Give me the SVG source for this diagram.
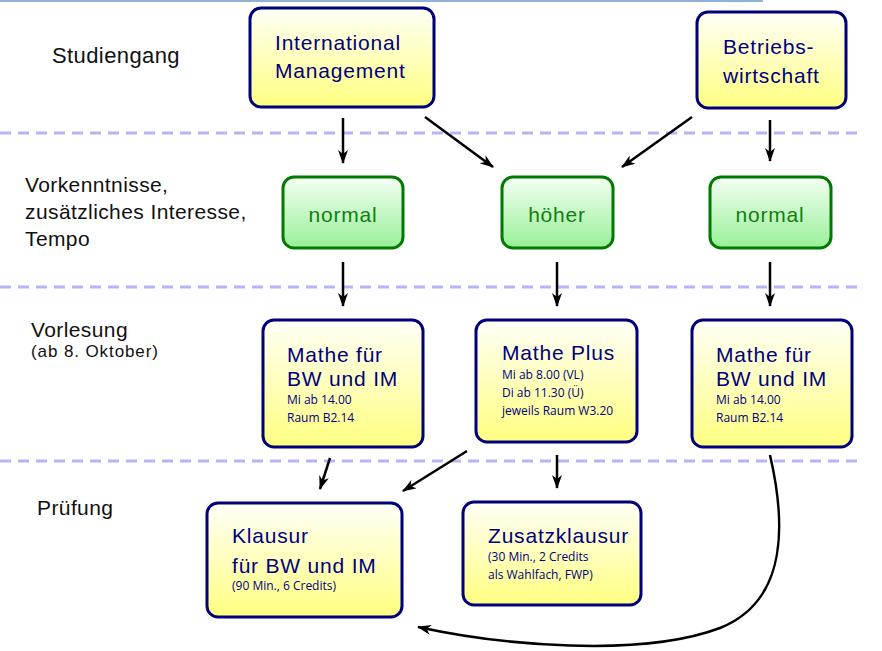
<svg xmlns="http://www.w3.org/2000/svg" width="882" height="651" viewBox="0 0 882 651">
<defs>
<linearGradient id="gy" x1="0" y1="0" x2="0" y2="1">
<stop offset="0" stop-color="#fffff8"/>
<stop offset="1" stop-color="#ffff80"/>
</linearGradient>
<linearGradient id="gg" x1="0" y1="0" x2="0" y2="1">
<stop offset="0" stop-color="#f4fff4"/>
<stop offset="1" stop-color="#98f098"/>
</linearGradient>
<marker id="ah" viewBox="0 0 14 10" refX="13" refY="5" markerWidth="14" markerHeight="10" orient="auto" markerUnits="userSpaceOnUse">
<path d="M0,0 L14,5 L0,10 L4,5 z" fill="#000"/>
</marker>
</defs>
<style>
text{font-family:"Liberation Sans",Arial,sans-serif}
.lbl{font-size:21px;fill:#111;letter-spacing:0.4px}
.ybox{fill:url(#gy);stroke:#00007a;stroke-width:3}
.gbox{fill:url(#gg);stroke:#007a00;stroke-width:3}
.bt{font-size:21px;fill:#000080;letter-spacing:0.8px}
.st{font-family:"Open Sans","Noto Sans","Liberation Sans",sans-serif;font-size:12px;fill:#000080}
.gt{font-size:21px;fill:#108010;text-anchor:middle;letter-spacing:0.8px}
.sep{stroke:#b4b4f8;stroke-width:3;stroke-dasharray:11 7}
.arr{stroke:#000;stroke-width:2.5;fill:none;marker-end:url(#ah)}
</style>
<rect width="882" height="651" fill="#fff"/>
<line x1="0" y1="1" x2="763" y2="1" stroke="#8fb2d6" stroke-width="2"/>
<g id="separators">
<line class="sep" x1="0" y1="133" x2="862" y2="133"/>
<line class="sep" x1="0" y1="287" x2="862" y2="287"/>
<line class="sep" x1="0" y1="461" x2="862" y2="461"/>
</g>
<g id="labels">
<text class="lbl" x="52" y="63" style="font-size:22px">Studiengang</text>
<text class="lbl" x="25" y="192">Vorkenntnisse,</text>
<text class="lbl" x="25" y="219">zusätzliches Interesse,</text>
<text class="lbl" x="25" y="246">Tempo</text>
<text class="lbl" x="31" y="337">Vorlesung</text>
<text class="lbl" x="31" y="357" style="font-size:17px;letter-spacing:0.9px">(ab 8. Oktober)</text>
<text class="lbl" x="37" y="515">Prüfung</text>
</g>
<g id="n-im">
<rect class="ybox" x="250" y="8" width="184" height="99" rx="11"/>
<text class="bt" x="275" y="50">International</text>
<text class="bt" x="275" y="78">Management</text>
</g>
<g id="n-bw">
<rect class="ybox" x="697" y="12" width="149" height="96" rx="11"/>
<text class="bt" x="723" y="54">Betriebs-</text>
<text class="bt" x="723" y="83">wirtschaft</text>
</g>
<g id="n-normal1">
<rect class="gbox" x="283" y="177" width="120" height="71" rx="11"/>
<text class="gt" x="343" y="222">normal</text>
</g>
<g id="n-hoeher">
<rect class="gbox" x="502" y="177" width="111" height="71" rx="11"/>
<text class="gt" x="557" y="222">höher</text>
</g>
<g id="n-normal2">
<rect class="gbox" x="710" y="177" width="121" height="71" rx="11"/>
<text class="gt" x="770" y="222">normal</text>
</g>
<g id="n-mathe1">
<rect class="ybox" x="263" y="320" width="160" height="127" rx="11"/>
<text class="bt" x="287" y="362">Mathe für</text>
<text class="bt" x="287" y="386">BW und IM</text>
<text class="st" x="287" y="404">Mi ab 14.00</text>
<text class="st" x="287" y="422">Raum B2.14</text>
</g>
<g id="n-matheplus">
<rect class="ybox" x="476" y="320" width="161" height="122" rx="11"/>
<text class="bt" x="502" y="360">Mathe Plus</text>
<text class="st" x="502" y="379">Mi ab 8.00 (VL)</text>
<text class="st" x="502" y="397">Di ab 11.30 (Ü)</text>
<text class="st" x="502" y="415">jeweils Raum W3.20</text>
</g>
<g id="n-mathe2">
<rect class="ybox" x="692" y="320" width="160" height="127" rx="11"/>
<text class="bt" x="716" y="362">Mathe für</text>
<text class="bt" x="716" y="386">BW und IM</text>
<text class="st" x="716" y="404">Mi ab 14.00</text>
<text class="st" x="716" y="422">Raum B2.14</text>
</g>
<g id="n-klausur">
<rect class="ybox" x="207" y="503" width="195" height="114" rx="11"/>
<text class="bt" x="232" y="543">Klausur</text>
<text class="bt" x="232" y="573">für BW und IM</text>
<text class="st" x="232" y="590">(90 Min., 6 Credits)</text>
</g>
<g id="n-zusatz">
<rect class="ybox" x="463" y="502" width="178" height="103" rx="11"/>
<text class="bt" x="488" y="543">Zusatzklausur</text>
<text class="st" x="488" y="561">(30 Min., 2 Credits</text>
<text class="st" x="488" y="579">als Wahlfach, FWP)</text>
</g>
<g id="connectors">
<line class="arr" x1="343" y1="118" x2="343" y2="163"/>
<line class="arr" x1="425" y1="117" x2="493" y2="167"/>
<line class="arr" x1="692" y1="117" x2="622" y2="167"/>
<line class="arr" x1="770" y1="120" x2="770" y2="161"/>
<line class="arr" x1="343" y1="262" x2="343" y2="306"/>
<line class="arr" x1="557" y1="262" x2="557" y2="306"/>
<line class="arr" x1="770" y1="262" x2="770" y2="306"/>
<line class="arr" x1="330" y1="458" x2="320" y2="489"/>
<line class="arr" x1="467" y1="451" x2="403" y2="491"/>
<line class="arr" x1="557" y1="455" x2="557" y2="488"/>
<path class="arr" d="M770,455 C785,520 790,600 720,628 C640,658 500,645 418,627"/>
</g>
</svg>
